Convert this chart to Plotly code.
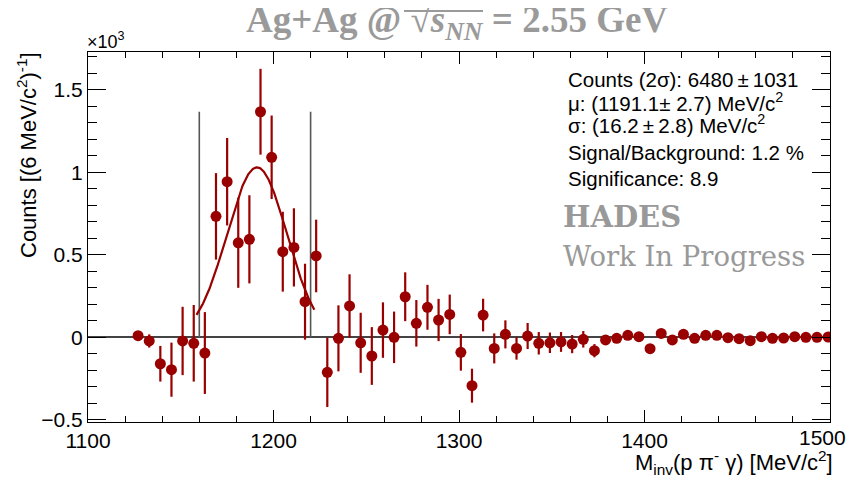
import numpy as np
import plotly.graph_objects as go

# ---- data ----
mass = [1127 + 6 * i for i in range(63)]  # bin centres, 6 MeV/c^2 bins
counts = [10, -22, -160, -196, -22, -36, -95, 733, 943, 573,
          594, 1367, 1091, 519, 545, 216, 493, -212, -6, 190,
          -33, -113, 44, 0, 246, 85, 182, 105, 139, -91,
          -293, 135, -67, 18, -67, 8, -36, -33, -28, -41,
          -12, -81, -16, -6, 12, 4, -69, 24, -16, 18,
          -6, 12, 12, -2, -8, -20, 4, -6, -4, 4,
          0, 0, 2]
errors = [15, 40, 108, 164, 207, 232, 248, 262, 265, 273,
          267, 260, 253, 242, 237, 230, 220, 210, 200, 192,
          182, 175, 168, 156, 148, 141, 136, 128, 120, 111,
          103, 99, 91, 85, 68, 79, 68, 62, 60, 55,
          50, 40, 30, 28, 25, 22, 20, 18, 16, 14,
          12, 10, 10, 8, 8, 6, 5, 5, 4, 4,
          3, 3, 2]

# fit parameters (Gaussian) and ranges
fit_mu = 1191.1
fit_sigma = 16.2
fit_amp = 1030.0
fit_range = [1158.5, 1222.0]
signal_window = [1160, 1220]

x_ticks = [1100, 1200, 1300, 1400, 1500]
x_ticklabels = ["1100", "1200", "1300", "1400", "1500"]
y_ticks = [-500, 0, 500, 1000, 1500]
y_ticklabels = ["\u22120.5", "0", "0.5", "1", "1.5"]

stats_lines = [
    "Counts (2\u03c3): 6480\u2009\u00b1\u20091031",
    "\u03bc: (1191.1\u00b1 2.7) MeV/c<sup>2</sup>",
    "\u03c3: (16.2\u2009\u00b1\u20092.8) MeV/c<sup>2</sup>",
    "Signal/Background: 1.2 %",
    "Significance: 8.9",
]

RED = "#990000"
GREY = "#9a9a9a"
OFF = 8  # default body margin of the html page
W, H = 856 - 2 * OFF, 485 - 2 * OFF
L, T = 88 - OFF, 52 - OFF
pw, ph = 742, 370
R, B = W - L - pw, H - T - ph


def px(xs):  # screenshot pixel -> paper
    return (xs - OFF - L) / pw


def py(ys):
    return (T + ph - (ys - OFF)) / ph


fig = go.Figure()

# signal window lines
for xv in signal_window:
    fig.add_trace(go.Scatter(x=[xv, xv], y=[0, max(counts)], mode="lines",
                             line=dict(color="#555555", width=1.6),
                             hoverinfo="skip", showlegend=False))

# fit curve
xf = np.linspace(fit_range[0], fit_range[1], 200)
yf = fit_amp * np.exp(-0.5 * ((xf - fit_mu) / fit_sigma) ** 2)
fig.add_trace(go.Scatter(x=xf, y=yf, mode="lines",
                         line=dict(color=RED, width=2.2), showlegend=False))

# data points
fig.add_trace(go.Scatter(
    x=mass, y=counts, mode="markers",
    marker=dict(color=RED, size=11, line=dict(width=0)),
    error_y=dict(type="data", array=errors, visible=True, color=RED,
                 thickness=2.2, width=0),
    showlegend=False))

SANS = "Liberation Sans, Arial, sans-serif"
axis_font = dict(family=SANS, size=21, color="black")
title_font = dict(family=SANS, size=22, color="black")

# last x label is drawn as an annotation so that it stays inside the page
shown_xlabels = x_ticklabels[:-1] + [""]

fig.update_xaxes(range=[1100, 1500], tickvals=x_ticks, ticktext=shown_xlabels,
                 ticks="inside", ticklen=12,
                 tickwidth=1, tickcolor="black", showline=True, linecolor="black",
                 linewidth=1.2, mirror="ticks", showgrid=False, zeroline=False,
                 tickfont=axis_font, automargin=False,
                 minor=dict(dtick=20, ticks="inside", ticklen=6, tickcolor="black",
                            tickwidth=1, showgrid=False))
fig.update_yaxes(range=[-513, 1729], tickvals=y_ticks, ticktext=y_ticklabels,
                 ticks="inside", ticklen=18, tickwidth=1, tickcolor="black",
                 showline=True, linecolor="black", linewidth=1.2, mirror="ticks",
                 showgrid=False, zeroline=True, zerolinecolor="#444444",
                 zerolinewidth=1.5, tickfont=axis_font, automargin=False,
                 minor=dict(dtick=100, ticks="inside", ticklen=9, tickcolor="black",
                            tickwidth=1, showgrid=False))

ann = []
ann.append(dict(text=x_ticklabels[-1], x=1.0, xref="paper", y=0, yref="paper",
                xanchor="right", yanchor="top", xshift=18, yshift=-2, showarrow=False,
                font=axis_font))
# title
ann.append(dict(text="<b>Ag+Ag @ \u221a<i>s</i><sub><i>NN</i></sub> = 2.55 GeV</b>",
                x=px(457), y=py(23), xref="paper", yref="paper",
                xanchor="center", yanchor="middle", showarrow=False,
                font=dict(family="Liberation Serif, serif", size=37, color=GREY)))
# x10^3
ann.append(dict(text="\u00d710<sup>3</sup>", x=px(85), y=py(40), xref="paper", yref="paper",
                xanchor="left", yanchor="middle", showarrow=False,
                font=dict(family=SANS, size=18, color="black")))
# y title
ann.append(dict(text="Counts [(6 MeV/c<sup>2</sup>)<sup>-1</sup>]", textangle=-90,
                x=px(27), y=py(50), xref="paper", yref="paper",
                xanchor="center", yanchor="top", showarrow=False, font=title_font))
# x title
ann.append(dict(text="M<sub>inv</sub>(p \u03c0<sup>-</sup> \u03b3) [MeV/c<sup>2</sup>]",
                x=px(835), y=py(462), xref="paper", yref="paper",
                xanchor="right", yanchor="middle", showarrow=False, font=title_font))
# stats
stat_y = [79, 102, 124, 152, 178]
for txt, yy in zip(stats_lines, stat_y):
    ann.append(dict(text=txt, x=px(566), y=py(yy), xref="paper", yref="paper",
                    xanchor="left", yanchor="middle", showarrow=False,
                    font=dict(family=SANS, size=20.5, color="black")))
ann.append(dict(text="<b>HADES</b>", x=px(561), y=py(217), xref="paper", yref="paper",
                xanchor="left", yanchor="middle", showarrow=False,
                font=dict(family="DejaVu Serif, serif", size=29, color="#999999")))
ann.append(dict(text="Work In Progress", x=px(561), y=py(256), xref="paper", yref="paper",
                xanchor="left", yanchor="middle", showarrow=False,
                font=dict(family="DejaVu Serif, serif", size=27.5, color="#999999")))

# overline of the square root in the title
shapes = [dict(type="line", xref="paper", yref="paper",
               x0=px(404), x1=px(483), y0=py(11), y1=py(11),
               line=dict(color=GREY, width=2))]

fig.update_layout(
    width=W, height=H,
    margin=dict(l=L, r=R, t=T, b=B, pad=0, autoexpand=False),
    paper_bgcolor="white", plot_bgcolor="white",
    annotations=ann, shapes=shapes,
    showlegend=False,
)

fig.write_html("out.html")
